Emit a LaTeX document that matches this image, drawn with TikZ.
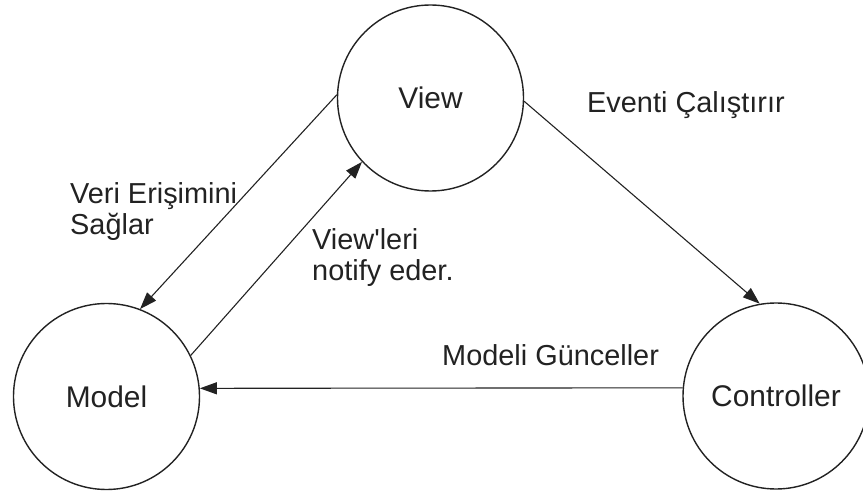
\documentclass[tikz,border=0pt]{standalone}
\usepackage{fontspec}
\setmainfont{Liberation Sans}[Ligatures=TeXOff]
\usetikzlibrary{arrows.meta}
\definecolor{ink}{HTML}{222222}
\tikzset{
  mvc/.style={circle, draw=ink, line width=1.4bp, minimum size=186bp, inner sep=0pt,
              text=ink, font=\fontsize{30}{34}\selectfont},
  flow/.style={draw=ink, line width=1.1bp, -{Triangle[length=17bp, width=12bp]}},
  lbl/.style={inner sep=0pt, text=ink, align=left, font=\fontsize{29}{31}\selectfont}
}
\begin{document}
\begin{tikzpicture}[x=1bp, y=-1bp]
  \useasboundingbox (0,0) rectangle (863,495);
  \clip (0,0) rectangle (863,495);
  \node[mvc] (view) at (430.5,98) {View};
  \node[mvc] (model) at (106.5,396.5) {Model};
  \node[mvc] (ctrl) at (776,396) {Controller};

  \draw[flow] (view.178) -- (model.69);
  \draw[flow] (model.26) -- (view.223.5);
  \draw[flow] (view.-2.4) -- (ctrl.100);
  \draw[flow] (ctrl.175.1) -- (model.5.2);

  \node[lbl, anchor=north west] (l1) at (70,182) {Veri Erişimini\\Sağlar};
  \node[lbl, anchor=north west] (l2) at (312,228) {View'leri\\notify eder.};
  \node[lbl, anchor=base west] (l3) at (587,113) {Eventi Çalıştırır};
  \node[lbl, anchor=base west] (l4) at (442,365) {Modeli Günceller};
\end{tikzpicture}
\end{document}
